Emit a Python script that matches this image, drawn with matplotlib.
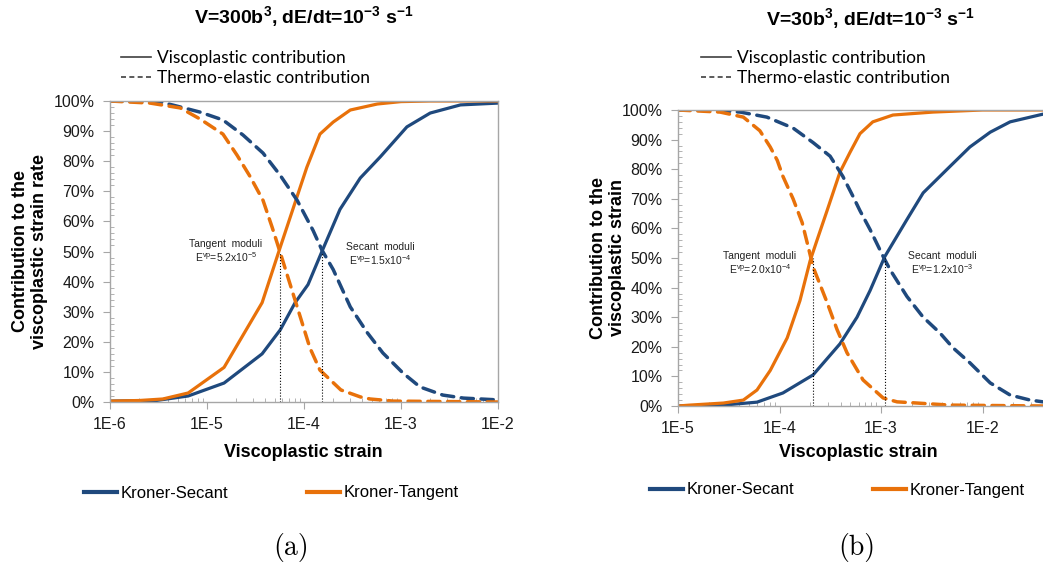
import numpy as np
import matplotlib
matplotlib.use('Agg')
import matplotlib.pyplot as plt
from matplotlib.lines import Line2D
from matplotlib.ticker import LogLocator, FuncFormatter, MultipleLocator, PercentFormatter

plt.rcParams['font.family'] = ['Liberation Sans', 'DejaVu Sans']
plt.rcParams['mathtext.fontset'] = 'custom'
plt.rcParams['mathtext.default'] = 'regular'

BLUE = '#1F497D'
ORANGE = '#E8710A'
GRAY = '#A6A6A6'

# ---- (a) V=300b^3 ----
a_sec_vp_x = [1e-6, 3e-6, 6.4e-6, 1.5e-5, 3.7e-5, 5.7e-5, 8.1e-5, 1.1e-4, 1.53e-4, 2.35e-4,
              3.8e-4, 6.1e-4, 1.15e-3, 2e-3, 4.1e-3, 1e-2]
a_sec_vp_y = [0.3, 0.5, 2, 6.3, 16, 24, 33, 39, 50, 64, 74.4, 81.4, 91.4, 96, 98.7, 99.3]
a_tan_vp_x = [1e-6, 2e-6, 3.5e-6, 6.4e-6, 1.5e-5, 3.7e-5, 5.7e-5, 1.07e-4, 1.46e-4, 2e-4,
              3e-4, 5.7e-4, 1e-3, 2e-3, 1e-2]
a_tan_vp_y = [0.3, 0.5, 1, 3, 11.5, 33, 51.5, 78, 89, 93, 97, 99, 99.8, 100, 100]
a_sec_te_x = [1e-6, 3.3e-6, 4.9e-6, 8.5e-6, 1.46e-5, 2.35e-5, 3.78e-5, 5.66e-5, 8.5e-5, 1.24e-4,
              1.53e-4, 2e-4, 3e-4, 4.5e-4, 6.5e-4, 1.05e-3, 1.57e-3, 2.7e-3, 4.4e-3, 1e-2]
a_sec_te_y = [100, 99.7, 98.3, 96.3, 93.7, 88.7, 82.7, 75.4, 67, 57,
              50.5, 44, 31.6, 23, 16.3, 9.6, 5, 2.3, 1.3, 0.7]
a_tan_te_x = [1e-6, 2.6e-6, 5.3e-6, 8.5e-6, 1.46e-5, 2.04e-5, 2.77e-5, 3.78e-5, 4.7e-5, 5.9e-5,
              8.5e-5, 1.15e-4, 1.46e-4, 2.4e-4, 3.8e-4, 4.8e-4, 8.3e-4, 1e-2]
a_tan_te_y = [100, 99.3, 97.7, 94, 89, 82, 75, 67, 58, 48,
              31.6, 18, 10.6, 4, 1.7, 1.0, 0.3, 0]
a_moduli = [5.66e-5, 1.53e-4]

# ---- (b) V=30b^3 ----
b_sec_vp_x = [1e-5, 2.8e-5, 6e-5, 1.08e-4, 2.14e-4, 3.94e-4, 5.8e-4, 7.8e-4, 1.09e-3, 1.8e-3,
              2.6e-3, 4.8e-3, 7.5e-3, 1.19e-2, 1.87e-2, 3.94e-2]
b_sec_vp_y = [0, 0.3, 1.3, 4.4, 10.5, 21, 30, 39, 50.5, 63, 72, 81, 87.5, 92.5, 96, 98.6]
b_tan_vp_x = [1e-5, 1.3e-5, 2.8e-5, 4.4e-5, 6e-5, 8.1e-5, 1.19e-4, 1.59e-4, 2e-4, 2.34e-4,
              2.94e-4, 3.94e-4, 4.95e-4, 6.2e-4, 8.3e-4, 1.31e-3, 3.25e-3, 1e-2, 3.94e-2]
b_tan_vp_y = [0, 0.3, 1, 2, 5.4, 12, 23, 35.6, 49, 56, 66, 79, 85.7, 92, 96, 98.3, 99.3, 100, 100]
b_sec_te_x = [1e-5, 2.07e-5, 4.1e-5, 7.5e-5, 1.36e-4, 2.14e-4, 3.15e-4, 4.2e-4, 5.3e-4, 6.2e-4,
              7.8e-4, 1.05e-3, 1.23e-3, 1.8e-3, 2.6e-3, 3.8e-3, 5.1e-3, 7.5e-3, 1.19e-2, 1.87e-2,
              2.94e-2, 3.94e-2]
b_sec_te_y = [100, 100, 99.3, 97.6, 93.9, 89, 84.4, 77.6, 70.8, 66,
              59.6, 50.5, 46, 37, 30, 24.7, 19.7, 14.6, 7.8, 3.7, 2, 1.4]
b_tan_te_x = [1e-5, 2.6e-5, 4.4e-5, 6.4e-5, 8.1e-5, 9.5e-5, 1.08e-4, 1.36e-4, 1.67e-4, 1.91e-4,
              2.14e-4, 2.94e-4, 3.69e-4, 4.62e-4, 6.65e-4, 1.05e-3, 1.44e-3, 2.26e-3, 4.8e-3, 3.94e-2]
b_tan_te_y = [100, 99.3, 97.6, 93, 87.5, 83, 77.6, 70, 62, 54,
              47, 35, 25.8, 18, 8.8, 2.7, 1.4, 1, 0.3, 0]
b_moduli = [2.14e-4, 1.1e-3]

fig = plt.figure(figsize=(10.43, 5.66), dpi=100)
axa = fig.add_axes([110/1043, 1-402/566, 388/1043, 301/566])
axb = fig.add_axes([678/1043, 1-406/566, 365/1043, 296/566])

DASH = (3.5, 2.2)


def style_axes(ax, xmin, xmax):
    ax.set_xscale('log')
    ax.set_xlim(xmin, xmax)
    ax.set_ylim(0, 100)
    for s in ax.spines.values():
        s.set_color(GRAY)
        s.set_linewidth(1.0)
    ax.xaxis.set_major_locator(LogLocator(base=10, numticks=10))
    ax.xaxis.set_minor_locator(LogLocator(base=10, subs=np.arange(2, 10), numticks=10))
    ax.xaxis.set_major_formatter(FuncFormatter(lambda v, _: f'1E{int(round(np.log10(v)))}'))
    ax.yaxis.set_major_locator(MultipleLocator(10))
    ax.yaxis.set_minor_locator(MultipleLocator(2))
    ax.yaxis.set_major_formatter(PercentFormatter(decimals=0))
    ax.tick_params(which='major', direction='out', length=5, color=GRAY, labelsize=11.5,
                   labelcolor='#1a1a1a', pad=6)
    ax.tick_params(which='minor', direction='in', length=3, color=GRAY)


def draw(ax, sec_vp, tan_vp, sec_te, tan_te, moduli):
    ax.plot(*sec_vp, color=BLUE, lw=2.3, solid_capstyle='round')
    ax.plot(*tan_vp, color=ORANGE, lw=2.3, solid_capstyle='round')
    ax.plot(*sec_te, color=BLUE, lw=2.5, dashes=DASH, dash_capstyle='round')
    ax.plot(*tan_te, color=ORANGE, lw=2.5, dashes=DASH, dash_capstyle='round')
    for m in moduli:
        ax.plot([m, m], [0, 50], color='black', lw=0.8, ls=':')


style_axes(axa, 1e-6, 1e-2)
draw(axa, (a_sec_vp_x, a_sec_vp_y), (a_tan_vp_x, a_tan_vp_y),
     (a_sec_te_x, a_sec_te_y), (a_tan_te_x, a_tan_te_y), a_moduli)
axa.text(1.57e-5, 50, 'Tangent  moduli\nE$^{vp}$=5.2x10$^{-5}$', fontsize=7.5, ha='center',
         va='center', linespacing=1.1, color='#222222')
axa.text(6.1e-4, 49, 'Secant  moduli\nE$^{vp}$=1.5x10$^{-4}$', fontsize=7.5, ha='center',
         va='center', linespacing=1.1, color='#222222')
axa.set_title('V=300b$^3$, dE/dt=10$^{-3}$ s$^{-1}$', fontsize=14, fontweight='bold', y=1.23)
axa.set_xlabel('Viscoplastic strain', fontsize=13, fontweight='bold')
axa.xaxis.set_label_coords(0.497, -0.14)
axa.set_ylabel('Contribution to the\nviscoplastic strain rate', fontsize=13, fontweight='bold',
               linespacing=1.15)
axa.yaxis.set_label_coords(-0.16, 0.5)

style_axes(axb, 1e-5, 3.94e-2)
axb.spines['right'].set_visible(False)
draw(axb, (b_sec_vp_x, b_sec_vp_y), (b_tan_vp_x, b_tan_vp_y),
     (b_sec_te_x, b_sec_te_y), (b_tan_te_x, b_tan_te_y), b_moduli)
axb.text(6.4e-5, 48, 'Tangent  moduli\nE$^{vp}$=2.0x10$^{-4}$', fontsize=7.5, ha='center',
         va='center', linespacing=1.1, color='#222222')
axb.text(4.0e-3, 48, 'Secant  moduli\nE$^{vp}$=1.2x10$^{-3}$', fontsize=7.5, ha='center',
         va='center', linespacing=1.1, color='#222222')
axb.set_title('V=30b$^3$, dE/dt=10$^{-3}$ s$^{-1}$', fontsize=14, fontweight='bold',
              x=0.526, y=1.26)
axb.set_xlabel('Viscoplastic strain', fontsize=13, fontweight='bold')
axb.xaxis.set_label_coords(0.493, -0.13)
axb.set_ylabel('Contribution to the\nviscoplastic strain', fontsize=13, fontweight='bold',
               linespacing=1.15)
axb.yaxis.set_label_coords(-0.142, 0.5)

# top legends (line style)
style_handles = [Line2D([], [], color='#404040', lw=1.2),
                 Line2D([], [], color='#404040', lw=1.2, ls=(0, (3, 2)))]
style_labels = ['Viscoplastic contribution', 'Thermo-elastic contribution']
for x0, y0 in [(121, 50), (701, 50)]:
    fig.legend(style_handles, style_labels, loc='upper left',
               bbox_to_anchor=(x0/1043, 1-y0/566), frameon=False,
               prop={'family': 'Lato', 'size': 12.5}, handlelength=1.75, handletextpad=0.3,
               labelspacing=0.22, borderpad=0, borderaxespad=0)

# bottom legends (models)
model_handles = [Line2D([], [], color=BLUE, lw=3), Line2D([], [], color=ORANGE, lw=3)]
model_labels = ['Kroner-Secant', 'Kroner-Tangent']
for x0, y0 in [(84, 493), (650, 490)]:
    fig.legend(model_handles, model_labels, loc='center left',
               bbox_to_anchor=(x0/1043, 1-y0/566), frameon=False, ncol=2,
               fontsize=12, handlelength=2.0, handletextpad=0.2, columnspacing=4.7,
               borderpad=0, borderaxespad=0)

fig.text(291/1043, 1-547/566, '(a)', fontsize=20, family='cmr10', ha='center', va='center')
fig.text(857/1043, 1-547/566, '(b)', fontsize=20, family='cmr10', ha='center', va='center')

fig.savefig('out.png', dpi=100)
